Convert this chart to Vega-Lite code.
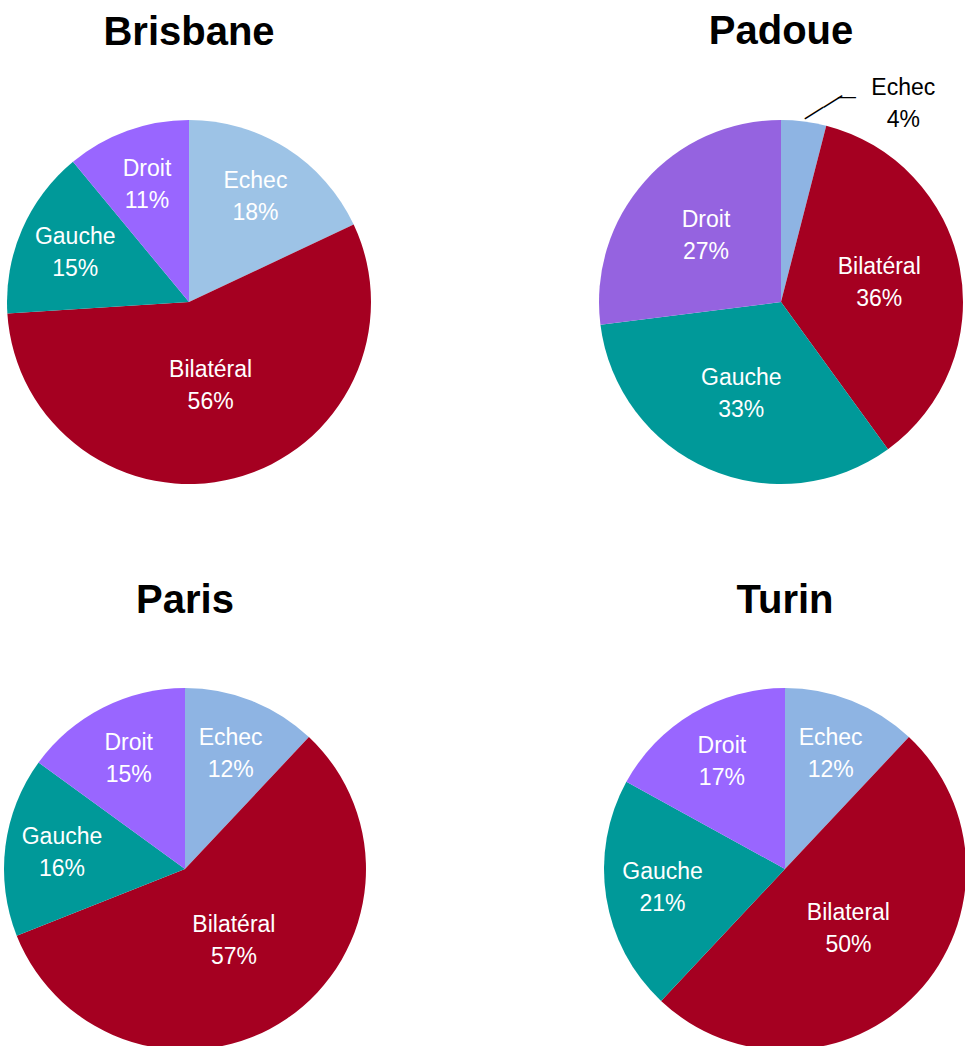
{
  "$schema": "https://vega.github.io/schema/vega-lite/v6.json",
  "padding": {"left": 4, "top": 11, "right": 0, "bottom": 0},
  "background": "white",
  "config": {
    "view": {"stroke": null},
    "title": {"font": "Liberation Sans", "fontSize": 40, "fontWeight": "bold", "color": "black", "anchor": "middle", "offset": 64},
    "text": {"font": "Liberation Sans", "fontSize": 23, "lineBreak": "\n", "lineHeight": 32}
  },
  "datasets": {
    "pies": [
      {"city": "Brisbane", "cat": "Echec", "k": 1, "v": 0.18},
      {"city": "Brisbane", "cat": "Bilatéral", "k": 2, "v": 0.56},
      {"city": "Brisbane", "cat": "Gauche", "k": 3, "v": 0.15},
      {"city": "Brisbane", "cat": "Droit", "k": 4, "v": 0.11},
      {"city": "Padoue", "cat": "Echec", "k": 1, "v": 0.04},
      {"city": "Padoue", "cat": "Bilatéral", "k": 2, "v": 0.36},
      {"city": "Padoue", "cat": "Gauche", "k": 3, "v": 0.33},
      {"city": "Padoue", "cat": "Droit", "k": 4, "v": 0.27},
      {"city": "Paris", "cat": "Echec", "k": 1, "v": 0.12},
      {"city": "Paris", "cat": "Bilatéral", "k": 2, "v": 0.57},
      {"city": "Paris", "cat": "Gauche", "k": 3, "v": 0.16},
      {"city": "Paris", "cat": "Droit", "k": 4, "v": 0.15},
      {"city": "Turin", "cat": "Echec", "k": 1, "v": 0.12},
      {"city": "Turin", "cat": "Bilateral", "k": 2, "v": 0.50},
      {"city": "Turin", "cat": "Gauche", "k": 3, "v": 0.21},
      {"city": "Turin", "cat": "Droit", "k": 4, "v": 0.17}
    ]
  },
  "data": {"name": "pies"},
  "transform": [{"calculate": "datum.cat + '\\n' + format(datum.v, '.0%')", "as": "lab"}],
  "resolve": {"scale": {"color": "independent"}},
  "spacing": 80,
  "vconcat": [
    {
      "spacing": 222,
      "resolve": {"scale": {"color": "independent"}},
      "hconcat": [
        {
          "title": "Brisbane",
          "width": 370, "height": 370,
          "transform": [{"filter": "datum.city === 'Brisbane'"}],
          "encoding": {"theta": {"field": "v", "type": "quantitative", "stack": true}, "order": {"field": "k", "type": "quantitative"}},
          "layer": [
            {"mark": {"type": "arc", "outerRadius": 182}, "encoding": {"color": {"field": "k", "type": "nominal", "legend": null, "scale": {"domain": [1, 2, 3, 4], "range": ["#9DC3E6", "#A50021", "#009999", "#9966FF"]}}}},
            {"mark": {"type": "text", "radius": 124, "dy": -16, "color": "white"}, "encoding": {"text": {"condition": {"test": "datum.v < 0.25", "field": "lab"}, "value": ""}}},
            {"mark": {"type": "text", "radius": 100, "dy": -16, "color": "white"}, "encoding": {"text": {"condition": {"test": "datum.v >= 0.25 && datum.v < 0.45", "field": "lab"}, "value": ""}}},
            {"mark": {"type": "text", "radius": 87, "dy": -16, "color": "white"}, "encoding": {"text": {"condition": {"test": "datum.v >= 0.45", "field": "lab"}, "value": ""}}}
          ]
        },
        {
          "title": {"text": "Padoue", "offset": 25},
          "width": 370, "height": 370,
          "transform": [{"filter": "datum.city === 'Padoue'"}],
          "encoding": {"theta": {"field": "v", "type": "quantitative", "stack": true}, "order": {"field": "k", "type": "quantitative"}},
          "layer": [
            {"mark": {"type": "arc", "outerRadius": 182}, "encoding": {"color": {"field": "k", "type": "nominal", "legend": null, "scale": {"domain": [1, 2, 3, 4], "range": ["#8EB4E3", "#A50021", "#009999", "#9563E0"]}}}},
            {"mark": {"type": "text", "radius": 124, "dy": -16, "color": "white"}, "encoding": {"text": {"condition": {"test": "datum.v >= 0.05 && datum.v < 0.25", "field": "lab"}, "value": ""}}},
            {"mark": {"type": "text", "radius": 100, "dy": -16, "color": "white"}, "encoding": {"text": {"condition": {"test": "datum.v >= 0.25 && datum.v < 0.45", "field": "lab"}, "value": ""}}},
            {"mark": {"type": "text", "radius": 87, "dy": -16, "color": "white"}, "encoding": {"text": {"condition": {"test": "datum.v >= 0.45", "field": "lab"}, "value": ""}}},
            {"mark": {"type": "text", "radius": 202, "dx": 97, "dy": -14, "color": "black"}, "encoding": {"text": {"condition": {"test": "datum.v < 0.05", "field": "lab"}, "value": ""}}},
            {"mark": {"type": "text", "radius": 195, "dx": 16, "dy": 7, "angle": 328, "fontSize": 22, "color": "black"}, "encoding": {"text": {"condition": {"test": "datum.v < 0.05", "value": "——"}, "value": ""}}},
            {"mark": {"type": "text", "radius": 207, "dx": 40, "dy": 0, "fontSize": 18, "color": "black"}, "encoding": {"text": {"condition": {"test": "datum.v < 0.05", "value": "—"}, "value": ""}}}
          ]
        }
      ]
    },
    {
      "spacing": 238,
      "resolve": {"scale": {"color": "independent"}},
      "hconcat": [
        {
          "title": {"text": "Paris", "offset": 67},
          "width": 362, "height": 362,
          "transform": [{"filter": "datum.city === 'Paris'"}],
          "encoding": {"theta": {"field": "v", "type": "quantitative", "stack": true}, "order": {"field": "k", "type": "quantitative"}},
          "layer": [
            {"mark": {"type": "arc", "outerRadius": 181}, "encoding": {"color": {"field": "k", "type": "nominal", "legend": null, "scale": {"domain": [1, 2, 3, 4], "range": ["#8EB4E3", "#A50021", "#009999", "#9966FF"]}}}},
            {"mark": {"type": "text", "radius": 124, "dy": -16, "color": "white"}, "encoding": {"text": {"condition": {"test": "datum.v < 0.25", "field": "lab"}, "value": ""}}},
            {"mark": {"type": "text", "radius": 100, "dy": -16, "color": "white"}, "encoding": {"text": {"condition": {"test": "datum.v >= 0.25 && datum.v < 0.45", "field": "lab"}, "value": ""}}},
            {"mark": {"type": "text", "radius": 87, "dy": -16, "color": "white"}, "encoding": {"text": {"condition": {"test": "datum.v >= 0.45", "field": "lab"}, "value": ""}}}
          ]
        },
        {
          "title": {"text": "Turin", "offset": 67},
          "width": 362, "height": 362,
          "transform": [{"filter": "datum.city === 'Turin'"}],
          "encoding": {"theta": {"field": "v", "type": "quantitative", "stack": true}, "order": {"field": "k", "type": "quantitative"}},
          "layer": [
            {"mark": {"type": "arc", "outerRadius": 181}, "encoding": {"color": {"field": "k", "type": "nominal", "legend": null, "scale": {"domain": [1, 2, 3, 4], "range": ["#8EB4E3", "#A50021", "#009999", "#9966FF"]}}}},
            {"mark": {"type": "text", "radius": 124, "dy": -16, "color": "white"}, "encoding": {"text": {"condition": {"test": "datum.v < 0.25", "field": "lab"}, "value": ""}}},
            {"mark": {"type": "text", "radius": 100, "dy": -16, "color": "white"}, "encoding": {"text": {"condition": {"test": "datum.v >= 0.25 && datum.v < 0.45", "field": "lab"}, "value": ""}}},
            {"mark": {"type": "text", "radius": 87, "dy": -16, "color": "white"}, "encoding": {"text": {"condition": {"test": "datum.v >= 0.45", "field": "lab"}, "value": ""}}}
          ]
        }
      ]
    }
  ]
}
